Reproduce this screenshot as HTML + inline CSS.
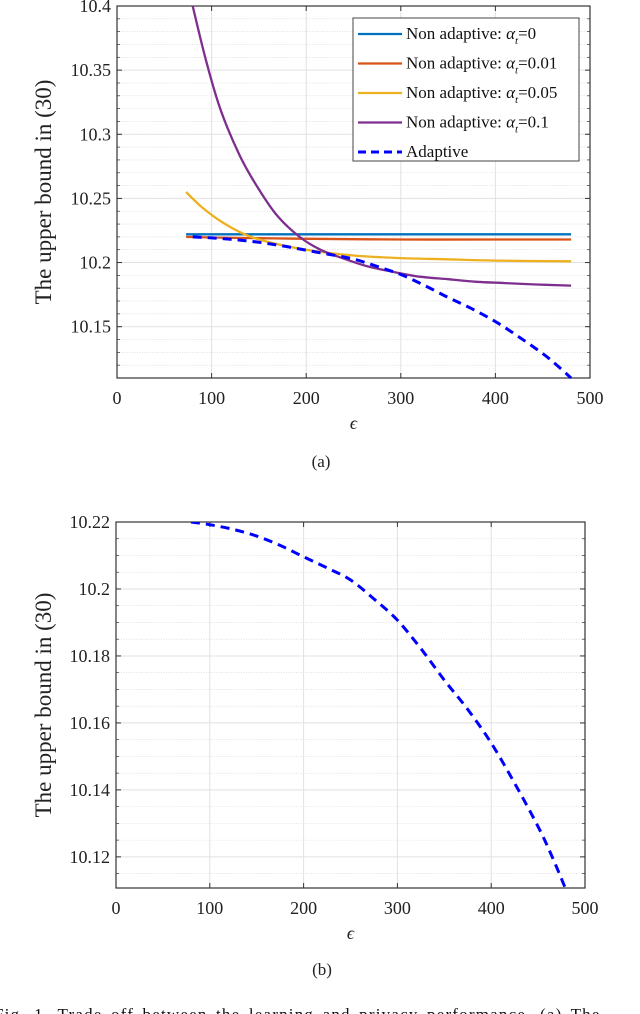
<!DOCTYPE html>
<html><head><meta charset="utf-8"><style>
html,body{margin:0;padding:0;background:#fff;width:640px;height:1014px;overflow:hidden}
svg{display:block;font-family:"Liberation Serif",serif}
</style></head><body>
<svg id="s" width="640" height="1014">
<text x="-6" y="1020" font-size="17" fill="#111" letter-spacing="1.2" word-spacing="3">Fig. 1. Trade off between the learning and privacy performance. (a) The</text>
</svg>
<script>
const xTicks=[0,100,200,300,400,500];
const aYTicks=[10.15,10.2,10.25,10.3,10.35,10.4];
const aYLabels=["10.15","10.2","10.25","10.3","10.35","10.4"];
const bYTicks=[10.12,10.14,10.16,10.18,10.2,10.22];
const bYLabels=["10.12","10.14","10.16","10.18","10.2","10.22"];
const eps0=[73,480];
const alpha0=[10.222,10.222];
const eps001=[73,100,150,200,300,400,480];
const alpha001=[10.220,10.2195,10.219,10.2185,10.218,10.218,10.218];
const eps005=[73,90,110,135,160,200,250,300,350,400,480];
const alpha005=[10.255,10.243,10.232,10.222,10.216,10.210,10.2055,10.2035,10.2025,10.2015,10.201];
const eps01=[80,95,110,130,150,170,193,215,240,265,290,320,350,380,410,440,480];
const alpha01=[10.4,10.355,10.318,10.283,10.257,10.236,10.220,10.210,10.203,10.197,10.193,10.189,10.187,10.185,10.184,10.183,10.182];
const epsAd=[80,100,125,150,175,200,225,250,275,300,325,350,375,400,425,450,465,480];
const adaptive=[10.2200,10.2192,10.2178,10.2158,10.2130,10.2096,10.2063,10.2027,10.1970,10.1907,10.1822,10.1728,10.1640,10.1540,10.1420,10.1290,10.1200,10.1100];

const NS="http://www.w3.org/2000/svg";
const svg=document.getElementById('s');
function mk(tag,at,parent){const e=document.createElementNS(NS,tag);for(const k in at)e.setAttribute(k,at[k]);(parent||svg).appendChild(e);return e;}
function smooth(pts){
  let d='M'+pts[0][0].toFixed(1)+','+pts[0][1].toFixed(1);
  for(let i=0;i<pts.length-1;i++){
    const p0=pts[Math.max(0,i-1)],p1=pts[i],p2=pts[i+1],p3=pts[Math.min(pts.length-1,i+2)];
    const c1=[p1[0]+(p2[0]-p0[0])/6,p1[1]+(p2[1]-p0[1])/6];
    const c2=[p2[0]-(p3[0]-p1[0])/6,p2[1]-(p3[1]-p1[1])/6];
    d+=` C${c1[0].toFixed(1)},${c1[1].toFixed(1)} ${c2[0].toFixed(1)},${c2[1].toFixed(1)} ${p2[0].toFixed(1)},${p2[1].toFixed(1)}`;
  }
  return d;
}

function panel(cfg){
  const g=mk('g',{});
  
  
  const X=v=>cfg.x0+(v-0)/500*(cfg.x1-cfg.x0);
  const Y=v=>cfg.y1-(v-cfg.ymin)/(cfg.ymax-cfg.ymin)*(cfg.y1-cfg.y0);
  for(let v=Math.ceil(cfg.ymin/cfg.minor)*cfg.minor; v<=cfg.ymax+1e-9; v+=cfg.minor){
    const y=Y(v);
    const l=mk('line',{x1:cfg.x0,x2:cfg.x1,y1:y,y2:y,stroke:'#cfcfcf','stroke-width':0.6,'stroke-dasharray':'1,1.5'},g);
    
    
    mk('line',{x1:cfg.x0,x2:cfg.x0+3,y1:y,y2:y,stroke:'#333','stroke-width':0.7},g);
    mk('line',{x1:cfg.x1,x2:cfg.x1-3,y1:y,y2:y,stroke:'#333','stroke-width':0.7},g);
  }
  cfg.yTicks.forEach((v,i)=>{
    const y=Y(v);
    const l=mk('line',{x1:cfg.x0,x2:cfg.x1,y1:y,y2:y,stroke:'#e2e2e2','stroke-width':1},g);
    
    
    mk('line',{x1:cfg.x0,x2:cfg.x0+5,y1:y,y2:y,stroke:'#333'},g);
    mk('line',{x1:cfg.x1,x2:cfg.x1-5,y1:y,y2:y,stroke:'#333'},g);
    const t=mk('text',{x:cfg.x0-6,y:y+6,'font-size':18,'text-anchor':'end',fill:'#222'},g);
    t.textContent=cfg.yLabels[i];
    
    
  });
  xTicks.forEach(v=>{
    const x=X(v);
    const l=mk('line',{x1:x,x2:x,y1:cfg.y0,y2:cfg.y1,stroke:'#e2e2e2','stroke-width':1},g);
    
    
    mk('line',{x1:x,x2:x,y1:cfg.y1,y2:cfg.y1-5,stroke:'#333'},g);
    mk('line',{x1:x,x2:x,y1:cfg.y0,y2:cfg.y0+5,stroke:'#333'},g);
    const t=mk('text',{x:x,y:cfg.y1+26,'font-size':18,'text-anchor':'middle',fill:'#222'},g);
    t.textContent=v;
    
    
  });
  const fr=mk('rect',{x:cfg.x0,y:cfg.y0,width:cfg.x1-cfg.x0,height:cfg.y1-cfg.y0,fill:'none',stroke:'#333','stroke-width':1.2},g);
  
  
  const cp=mk('clipPath',{id:'c'+cfg.name},g);
  mk('rect',{x:cfg.x0,y:cfg.y0,width:cfg.x1-cfg.x0,height:cfg.y1-cfg.y0+2},cp);
  cfg.series.forEach(s=>{
    const d=smooth(s.xs.map((x,i)=>[X(x),Y(s.ys[i])]));
    const p=mk('path',{d:d,fill:'none',stroke:s.color,'stroke-width':s.dash?3:2.3,'stroke-dasharray':s.dash?'9,6':'none','clip-path':'url(#c'+cfg.name+')'},g);
    
    
  });
  const yt=mk('text',{x:0,y:0,'font-size':23,'text-anchor':'middle',fill:'#222',transform:`translate(${cfg.ytx},${(cfg.y0+cfg.y1)/2}) rotate(-90)`},g);
  yt.textContent='The upper bound in (30)';
  
  
  const xt=mk('text',{x:(cfg.x0+cfg.x1)/2,y:cfg.y1+51,'font-size':18,'text-anchor':'middle','font-style':'italic',fill:'#222'},g);
  xt.textContent='ϵ';
  
  
  const cap=mk('text',{x:cfg.capx,y:cfg.capy,'font-size':17,'text-anchor':'middle',fill:'#222'},g);
  cap.textContent=cfg.cap;
  
  
  return g;
}

const C0='#0072BD',C1='#D95319',C2='#EDB120',C3='#7E2F8E',CA='#0000ff';
panel({name:'panel-a',x0:117,x1:590,y0:6,y1:378,ymin:10.11,ymax:10.4,minor:0.01,yTicks:aYTicks,yLabels:aYLabels,ytx:51,cap:'(a)',capx:321,capy:467,
  series:[{name:'series-alpha-0',xs:eps0,ys:alpha0,color:C0},
          {name:'series-alpha-0.01',xs:eps001,ys:alpha001,color:C1},
          {name:'series-alpha-0.05',xs:eps005,ys:alpha005,color:C2},
          {name:'series-alpha-0.1',xs:eps01,ys:alpha01,color:C3},
          {name:'series-adaptive',xs:epsAd,ys:adaptive,color:CA,dash:true}]});
panel({name:'panel-b',x0:116,x1:585,y0:522,y1:888,ymin:10.1107,ymax:10.22,minor:0.005,yTicks:bYTicks,yLabels:bYLabels,ytx:51,cap:'(b)',capx:322,capy:975,
  series:[{name:'series-adaptive-b',xs:epsAd,ys:adaptive,color:CA,dash:true}]});

const lg=mk('g',{});


mk('rect',{x:353,y:18,width:226,height:143,fill:'#fff',stroke:'#444','stroke-width':1},lg);
const legItems=[['Non adaptive: ','=0',C0],['Non adaptive: ','=0.01',C1],['Non adaptive: ','=0.05',C2],['Non adaptive: ','=0.1',C3],['Adaptive','',CA]];
legItems.forEach((it,i)=>{
  const y=34+i*29.5;
  const e=mk('g',{},lg);
  
  
  mk('line',{x1:358,x2:402,y1:y,y2:y,stroke:it[2],'stroke-width':i==4?3:2.3,'stroke-dasharray':i==4?'8,5':'none'},e);
  const t=mk('text',{x:406,y:y+5,'font-size':17,fill:'#111'},e);
  if(i<4){
    t.textContent=it[0];
    const a=mk('tspan',{'font-style':'italic'},t);a.textContent='α';
    const sb=mk('tspan',{'font-style':'italic','font-size':11,dy:5},t);sb.textContent='t';
    const r=mk('tspan',{dy:-5},t);r.textContent=it[1];
  } else t.textContent=it[0];
});
</script>
</body></html>
